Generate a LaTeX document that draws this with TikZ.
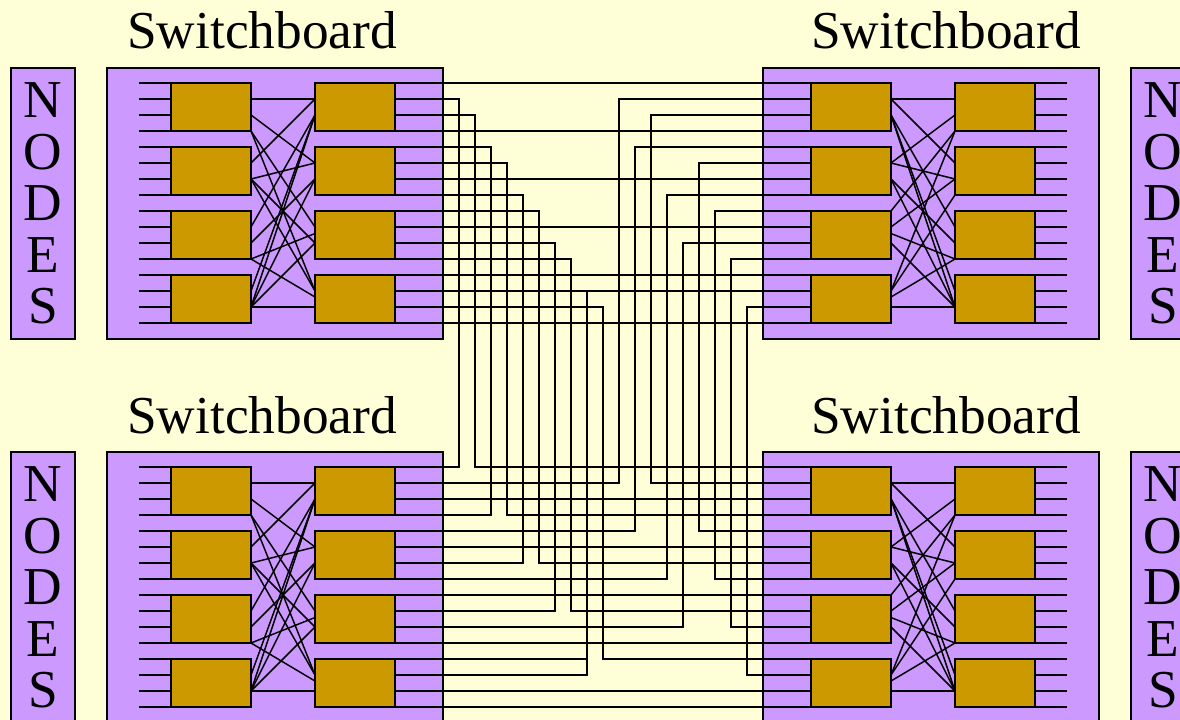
\documentclass[tikz,border=0pt]{standalone}
\usepackage{fontspec}
\setmainfont{Liberation Serif}
\definecolor{bgy}{HTML}{FFFFD7}
\definecolor{purp}{HTML}{CC99FF}
\definecolor{gold}{HTML}{CC9900}
\tikzset{
  wire/.style={draw=black,line width=1.1pt},
  frame/.style={draw=black,fill=purp,line width=1pt,minimum width=252pt,minimum height=203.25pt,inner sep=0pt,outer sep=0pt},
  nodesbox/.style={draw=black,fill=purp,line width=1pt,minimum width=48pt,minimum height=203.25pt,inner sep=0pt,outer sep=0pt},
  nodestext/.style={inner sep=0pt,outer sep=0pt,align=center,font=\fontsize{40}{38.6}\selectfont},
  swbox/.style={draw=black,fill=gold,line width=1pt,minimum width=60pt,minimum height=36pt,inner sep=0pt,outer sep=0pt},
  title/.style={anchor=base west,inner sep=0pt,font=\fontsize{40}{40}\selectfont}
}
\begin{document}
\begin{tikzpicture}[x=0.75pt,y=-0.75pt]
\useasboundingbox (0,0) rectangle (1180,720);
\clip (0,0) rectangle (1180,720);
\fill[bgy] (0,0) rectangle (1180,720);
% frames and labels
\foreach \b/\fx/\oy/\lx/\nx in {TL/275/0/127/43,TR/931/0/811/1163,BL/275/384/127/43,BR/931/384/811/1163}{
  \node[frame] (\b frame) at (\fx,203.5+\oy) {};
  \node[title] (\b title) at (\lx,49+\oy) {Switchboard};
  \node[nodesbox] (\b nodes) at (\nx,203.5+\oy) {};
  \node[nodestext] (\b nodestext) at (\nx,203.5+\oy) {N\\O\\D\\E\\S};
}
% port coordinates
\foreach \b/\ox/\oy in {TL/0/0,TR/640/0,BL/0/384,BR/640/384}{
  \foreach \i in {0,...,15}{
    \coordinate (\b s\i) at (139+\ox,83+16*\i+\oy);
    \coordinate (\b i\i) at (171+\ox,83+16*\i+\oy);
    \coordinate (\b a\i) at (251+\ox,83+16*\i+\oy);
    \coordinate (\b c\i) at (315+\ox,83+16*\i+\oy);
    \coordinate (\b o\i) at (395+\ox,83+16*\i+\oy);
    \coordinate (\b t\i) at (427+\ox,83+16*\i+\oy);
  }
  \coordinate (\b am9) at (251+\ox,233.5+\oy);
  \coordinate (\b cm9) at (315+\ox,233.5+\oy);
  \coordinate (\b am13) at (251+\ox,297+\oy);
  \coordinate (\b cm13) at (315+\ox,297+\oy);
}
% node-side stubs
\foreach \b in {TL,BL}{\foreach \i in {0,...,15}{\draw[wire] (\b s\i) -- (\b i\i);}}
\foreach \b in {TR,BR}{\foreach \i in {0,...,15}{\draw[wire] (\b o\i) -- (\b t\i);}}
% crossbars
\foreach \b in {TL,BL}{
  \foreach \p/\q in {1/1,2/5,3/9,3/13,5/1,6/5,6/10,6/13,9/2,10/6,11/m9,11/m13,13/2,14/2,14/6,14/10,14/14}{
    \draw[wire] (\b a\p) -- (\b c\q);
  }
}
\foreach \b in {TR,BR}{
  \foreach \p/\q in {1/1,1/5,2/9,2/13,2/14,5/2,5/6,6/10,6/14,8/3,9/6,m9/11,10/14,13/3,13/7,m13/11,14/14}{
    \draw[wire] (\b a\p) -- (\b c\q);
  }
}
% straight cables
\foreach \i in {0,3,6,9,12,13,15}{\draw[wire] (TLo\i) -- (TRi\i);}
\foreach \i in {2,5,8,11,14,15}{\draw[wire] (BLo\i) -- (BRi\i);}
% routed cables
\foreach \p/\q/\v in {TLo1/BLo0/459,TLo2/BRi0/475,TLo4/BLo3/491,TLo5/BRi3/507,TLo7/BLo6/523,TLo8/BRi6/539,TLo10/BLo9/555,TLo11/BRi9/571,TLo13/BLo13/587,TLo14/BRi12/603,TRi1/BLo1/619,TRi4/BLo4/635,TRi2/BRi1/651,TRi7/BLo7/667,TRi10/BLo10/683,TRi5/BRi4/699,TRi8/BRi7/715,TRi11/BRi10/731,TRi14/BRi13/747}{
  \coordinate (rail) at (\v,0);
  \draw[wire] (\p) -- (\p -| rail) -- (\q -| rail) -- (\q);
}
\coordinate (railstop) at (587,0);
\draw[wire] (BLo12) -- (BLo12 -| railstop);
% switch boxes
\foreach \b/\ox/\oy in {TL/0/0,TR/640/0,BL/0/384,BR/640/384}{
  \foreach \r in {0,1,2,3}{
    \node[swbox] (\b L\r) at (211+\ox,107+64*\r+\oy) {};
    \node[swbox] (\b R\r) at (355+\ox,107+64*\r+\oy) {};
  }
}
\end{tikzpicture}
\end{document}
